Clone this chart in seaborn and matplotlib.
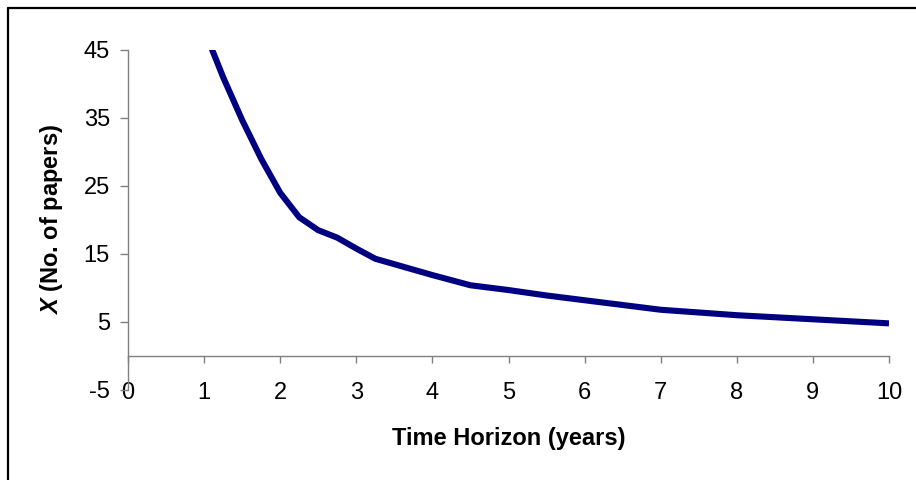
import matplotlib
matplotlib.use("Agg")
import matplotlib.pyplot as plt
from matplotlib.lines import Line2D
import seaborn as sns
import pandas as pd

# Data
time_horizon = [1, 1.25, 1.5, 1.75, 2, 2.25, 2.5, 2.75, 3, 3.25, 3.5, 4, 4.5, 5, 5.5, 6, 7, 8, 9, 10]
num_papers = [48, 41, 34.7, 29, 24, 20.4, 18.5, 17.4, 15.8, 14.3, 13.5, 11.9, 10.4, 9.7, 8.9, 8.2, 6.8, 6.0, 5.4, 4.8]
x_ticks = [0, 1, 2, 3, 4, 5, 6, 7, 8, 9, 10]
y_ticks = [-5, 5, 15, 25, 35, 45]

df = pd.DataFrame({"t": time_horizon, "x": num_papers})

sns.set_theme(style="white")
plt.rcParams["font.family"] = ["Liberation Sans", "DejaVu Sans"]
plt.rcParams["text.color"] = "black"
plt.rcParams["axes.labelcolor"] = "black"
plt.rcParams["xtick.color"] = "black"
plt.rcParams["ytick.color"] = "black"
plt.rcParams["mathtext.fontset"] = "custom"
plt.rcParams["mathtext.bfit"] = "Liberation Sans:italic:bold"
plt.rcParams["mathtext.bf"] = "Liberation Sans:bold"
plt.rcParams["mathtext.rm"] = "Liberation Sans"

fig = plt.figure(figsize=(9.16, 4.80), dpi=100)
ax = fig.add_axes([128 / 916, 1 - 390 / 480, (889 - 128) / 916, (390 - 50) / 480])

sns.lineplot(data=df, x="t", y="x", ax=ax, color="#000080", linewidth=4.4,
             solid_joinstyle="round", solid_capstyle="butt")

for s in ["top", "right"]:
    ax.spines[s].set_visible(False)
ax.spines["bottom"].set_position(("data", 0))
ax.spines["left"].set_color("#808080")
ax.spines["left"].set_linewidth(1.0)
ax.spines["bottom"].set_color("#808080")
ax.spines["bottom"].set_linewidth(1.0)

ax.set_xlim(0, 10)
ax.set_ylim(-5, 45)
ax.set_xticks(x_ticks)
ax.set_yticks(y_ticks)
ax.set_xticklabels([str(v) for v in x_ticks])
ax.set_yticklabels([str(v) for v in y_ticks])

ax.tick_params(axis="x", direction="out", length=5, width=1, color="#808080",
               pad=14, labelcolor="black", labelsize=17, bottom=True)
ax.tick_params(axis="y", direction="out", length=6, width=1, color="#808080",
               pad=7, labelcolor="black", labelsize=17, left=True)

ax.set_xlabel("Time Horizon (years)", fontsize=17, fontweight="bold", color="black")
ax.xaxis.set_label_coords(0.5, -0.108)
ax.set_ylabel(r"$\mathbfit{X}$ (No. of papers)", fontsize=17, fontweight="bold", color="black")
ax.yaxis.set_label_coords(-0.083, 0.5)

ax.grid(False)
ax.set_facecolor("white")

# outer frame (top and left edges)
fig.add_artist(Line2D([8 / 916, 1], [1 - 8 / 480, 1 - 8 / 480], transform=fig.transFigure,
                      color="black", linewidth=1.6))
fig.add_artist(Line2D([8 / 916, 8 / 916], [0, 1 - 8 / 480], transform=fig.transFigure,
                      color="black", linewidth=1.6))

fig.savefig("out.png", dpi=100, facecolor="white")
